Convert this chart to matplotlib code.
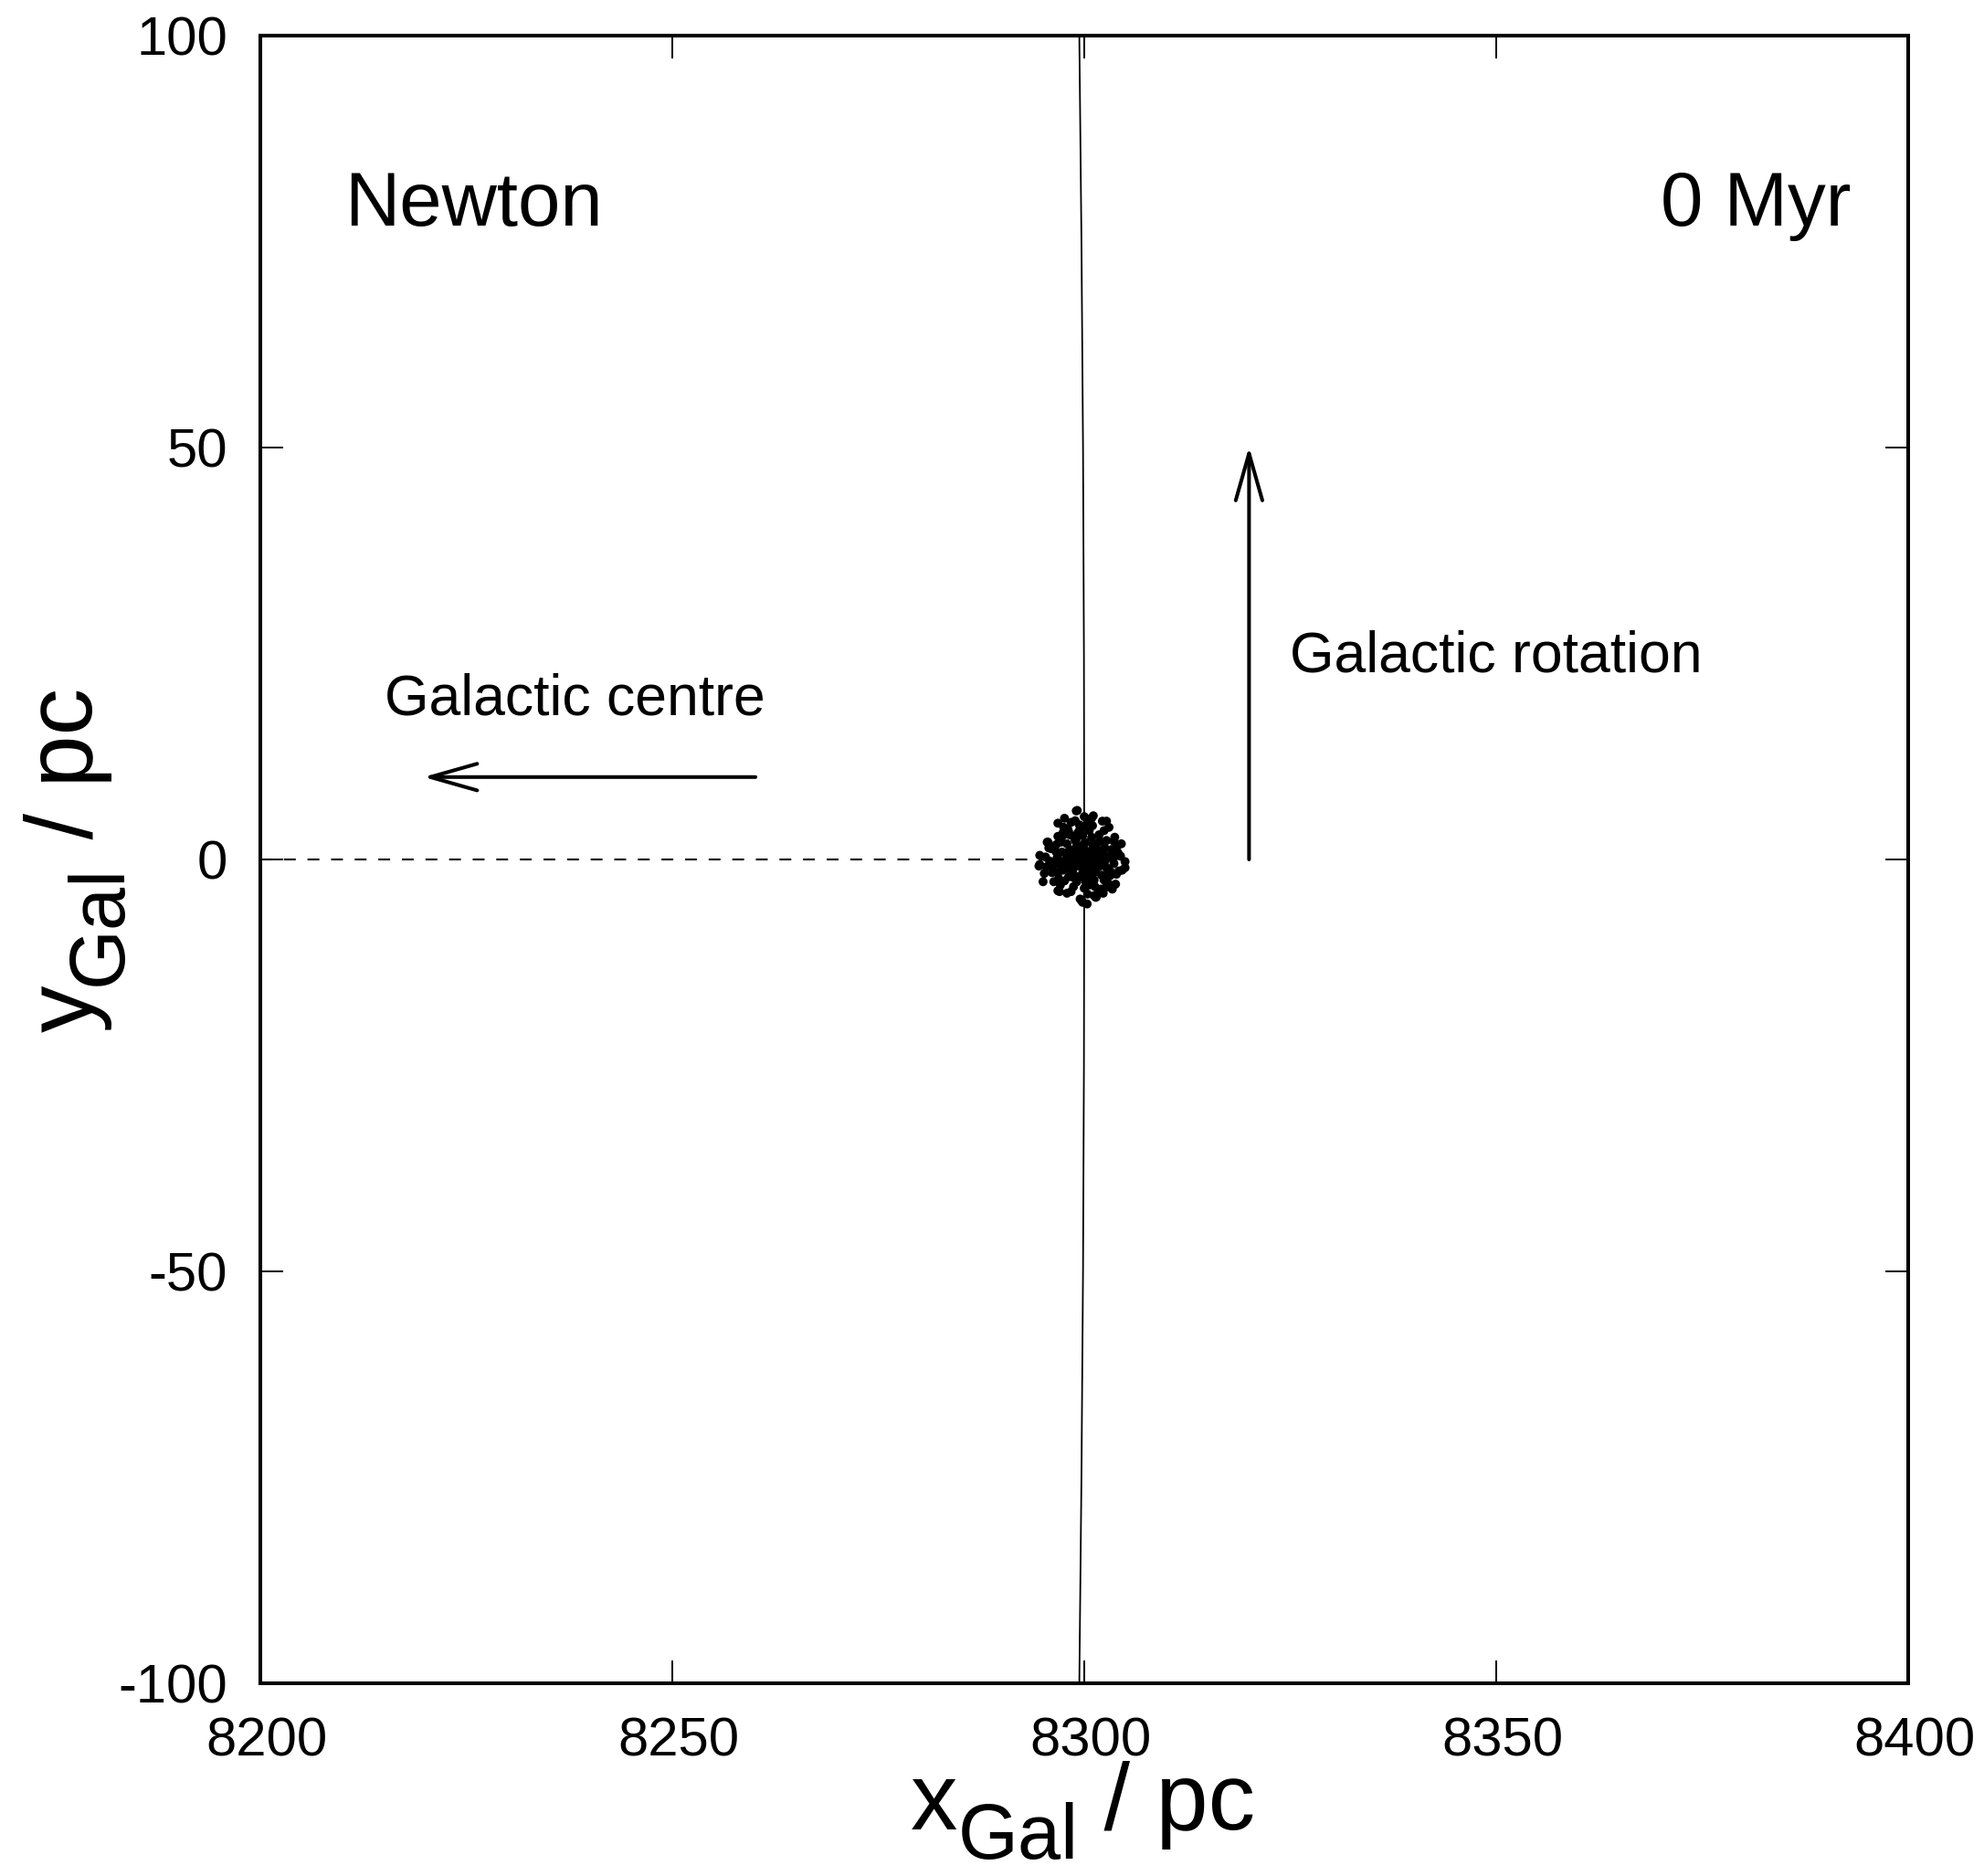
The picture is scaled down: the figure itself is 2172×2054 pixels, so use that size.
import matplotlib
matplotlib.use("Agg")
import matplotlib.pyplot as plt
from matplotlib.transforms import ScaledTranslation

plt.rcParams['font.family'] = ['Liberation Sans', 'DejaVu Sans']

# Axis ticks
x_ticks = [8200, 8250, 8300, 8350, 8400]
y_ticks = [-100, -50, 0, 50, 100]

# Cluster orbit (x_Gal, y_Gal in pc)
orbit_y = [-110, -100, -75, -50, -25, 0, 25, 50, 75, 100, 110]
orbit_x = [8299.27, 8299.40, 8299.66, 8299.85, 8299.96, 8300.00,
           8299.96, 8299.85, 8299.66, 8299.40, 8299.27]

# Star positions relative to the cluster centre (pc)
star_dx = [
    0.3, -0.5, 0.1, 0.5, -0.3, -0.2,
    1.2, 0.8, 0.0, -0.9, -1.3, -1.0, -0.2, 0.7, 1.1,
    2.0, 1.7, 1.0, 0.1, -0.9, -1.7, -2.1, -1.9, -1.4, -0.5, 0.5, 1.4, 1.9,
    2.8, 2.5, 1.9, 0.9, -0.2, -1.2, -2.1, -2.7, -2.9, -2.6, -1.9, -0.9, 0.2, 1.2, 2.1, 2.7,
    3.5, 3.3, 2.7, 1.8, 0.6, -0.6, -1.8, -2.8, -3.4, -3.5, -3.2, -2.4, -1.3, 0.0, 1.3, 2.4, 3.2,
    4.1, 3.6, 2.4, 1.0, -0.6, -2.0, -3.2, -4.0, -4.2, -3.9, -2.9, -1.6, 0.4, 1.8, 3.0, 3.9,
    0.6, -0.7, 1.5, -1.5, 0.3, -0.4, 2.3, -2.3, 0.9, -1.1, 2.2, -2.0, 1.6, -1.3,
    -0.97, 0.89, -2.4, -3.2, 2.2, 2.7, -4.5, 3.7, 4.0, -5.4, -5.4, 4.95, 4.95, 4.2,
    -4.85, -5.0, 3.8, 2.9, -3.7, -3.2, -2.1, 2.0, 1.5, -0.2, 0.35, -0.85, -4.4, -5.5,
    -0.5, 0.4, 1.2, -1.6, 3.0, -3.0, 0.0, 2.6, -2.6, 1.1, -0.3,
    -3.6, -3.1, -4.6, -4.3, 4.4, 4.6, 3.4, -1.1, 1.4, -2.5, 2.3, 0.7, -0.4,
    -3.8, 3.3, -2.2, 2.9, -1.7, 1.7, -0.6, 0.9, -3.3, 3.6, 1.2, -1.0, 0.1,
    -4.7, 4.5, -2.9, 2.5, -0.8, 0.6, -1.9, 2.0, -3.4, 3.1, -0.1, 1.5, -2.6,
]
star_dy = [
    0.4, 0.1, -0.6, -0.2, -0.4, 0.6,
    0.3, 1.0, 1.3, 0.9, 0.1, -0.8, -1.2, -1.0, -0.5,
    0.2, 1.1, 1.8, 2.1, 1.8, 1.2, 0.3, -0.7, -1.5, -2.0, -1.9, -1.5, -0.8,
    0.4, 1.4, 2.2, 2.7, 2.9, 2.6, 1.9, 0.9, -0.2, -1.3, -2.1, -2.7, -2.8, -2.5, -1.9, -1.0,
    0.0, 1.2, 2.3, 3.0, 3.5, 3.5, 3.0, 2.1, 0.9, -0.4, -1.6, -2.6, -3.3, -3.5, -3.3, -2.5, -1.5,
    0.8, 2.2, 3.5, 4.1, 4.2, 3.7, 2.8, 1.3, -0.2, -1.6, -3.1, -3.9, -4.2, -3.8, -3.0, -1.8,
    0.9, -0.3, 0.0, 0.6, -1.5, 1.6, -0.3, -0.4, -2.3, 2.3, 1.0, -1.2, 2.0, -2.2,
    5.9, 5.0, 5.0, 4.4, 4.65, 4.65, 2.1, 2.7, 1.6, 0.5, -0.6, -0.26, -1.0, -1.4,
    -1.7, -2.7, -3.0, -1.9, -2.7, -3.8, -4.1, -3.8, -4.5, -5.2, -5.4, 5.95, 2.1, -0.8,
    -4.8, 4.6, -4.4, 4.5, 3.9, -3.9, 5.2, -3.4, 3.2, 5.3, -5.0,
    1.6, -2.3, -0.9, 1.4, 0.4, -1.3, -3.6, 4.7, -4.6, 3.9, -4.1, 4.9, -4.9,
    -0.8, 0.5, 0.8, -1.2, -0.6, 0.7, 1.0, -0.9, 0.2, -0.5, 1.9, 2.4, -2.4,
    0.3, 1.9, -0.7, -0.2, 3.2, -3.1, 3.4, -3.6, 1.8, -2.0, 4.0, -4.3, 2.9,
]
cluster_x0 = 8300.0
cluster_y0 = 0.0

W, H, DPI = 2172, 2054, 100
fig = plt.figure(figsize=(W / DPI, H / DPI), dpi=DPI)
ax = fig.add_axes([285 / W, 1 - 1843 / H, 1804 / W, 1804 / H])

ax.set_xlim(8200, 8400)
ax.set_ylim(-100, 100)
ax.set_xticks(x_ticks)
ax.set_yticks(y_ticks)
ax.set_xticklabels([str(v) for v in x_ticks])
ax.set_yticklabels([str(v) for v in y_ticks])
ax.tick_params(direction='in', length=18, width=1.4, top=True, right=True,
               labelsize=43, pad=26)
for lbl in ax.get_xticklabels():
    lbl.set_transform(lbl.get_transform() + ScaledTranslation(5 / 72, 0, fig.dpi_scale_trans))
for sp in ax.spines.values():
    sp.set_linewidth(2.9)

# Orbit
ax.plot(orbit_x, orbit_y, color='black', lw=1.3, zorder=2)

# Line towards the Galactic centre
ax.plot([8200, cluster_x0], [cluster_y0, cluster_y0], color='black', lw=1.5,
        ls=(0, (6.2, 6.2)), zorder=2)

# Cluster stars
sx = [cluster_x0 + d for d in star_dx]
sy = [cluster_y0 + d for d in star_dy]
ax.scatter(sx, sy, s=50, color='black', edgecolors='none', zorder=3)

# Direction arrows
arrow_style = dict(arrowstyle='->,head_length=3.7,head_width=1.05', color='black',
                   lw=2.9, shrinkA=0, shrinkB=0, mutation_scale=10)
ax.annotate('', xy=(8219.8, 10), xytext=(8260.1, 10), arrowprops=arrow_style)
ax.annotate('', xy=(8320, 50.1), xytext=(8320, 0), arrowprops=arrow_style)

ax.text(8215.1, 17.6, 'Galactic centre', fontsize=45, ha='left', va='baseline')
ax.text(8325.0, 22.8, 'Galactic rotation', fontsize=45, ha='left', va='baseline')
ax.text(8210.2, 76.9, 'Newton', fontsize=60, ha='left', va='baseline')
ax.text(8393.1, 76.9, '0 Myr', fontsize=60, ha='right', va='baseline')

# Axis titles with subscripts, laid out piece by piece (pixel coordinates)
renderer = fig.canvas.get_renderer()
MAIN, SUB, DROP = 74, 61, 32


def label_pieces(pieces, x0, y0, vertical):
    x, y = x0, y0
    for text, size, drop in pieces:
        if vertical:
            t = fig.text((x + drop) / W, y / H, text, fontsize=size, rotation=90,
                         rotation_mode='anchor', ha='left', va='baseline')
            y += t.get_window_extent(renderer).height
        else:
            t = fig.text(x / W, (y - drop) / H, text, fontsize=size,
                         ha='left', va='baseline')
            x += t.get_window_extent(renderer).width


label_pieces([('x', MAIN, 0), ('Gal', SUB, DROP), (' / pc', MAIN, 0)],
             997, H - 2003, vertical=False)
label_pieces([('y', MAIN, 0), ('Gal', SUB, DROP), (' / pc', MAIN, 0)],
             101, H - 1130, vertical=True)

fig.savefig('out.png', dpi=DPI)
